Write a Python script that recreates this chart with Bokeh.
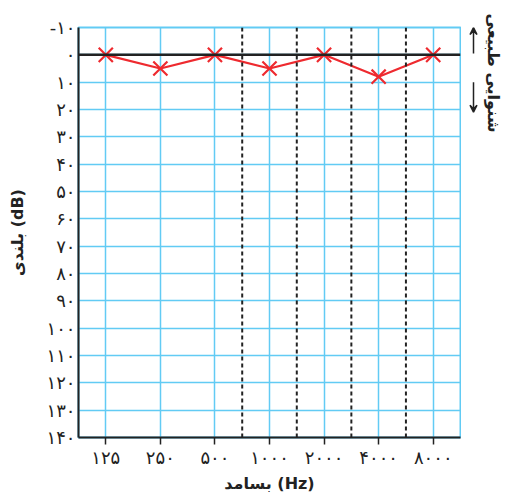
import math
from bokeh.plotting import figure
from bokeh.layouts import row
from bokeh.models import Range1d, FixedTicker, Span, Arrow, VeeHead, ColumnDataSource, Title
from bokeh.embed import file_html
from bokeh.resources import INLINE

freq_labels = ["۱۲۵", "۲۵۰", "۵۰۰", "۱۰۰۰", "۲۰۰۰", "۴۰۰۰", "۸۰۰۰"]
hearing_db = [0, 5, 0, 5, 0, 8, 0]
y_ticks = [-10, 0, 10, 20, 30, 40, 50, 60, 70, 80, 90, 100, 110, 120, 130, 140]
y_tick_labels = ["-۱۰", "۰", "۱۰", "۲۰", "۳۰", "۴۰", "۵۰", "۶۰", "۷۰", "۸۰", "۹۰",
                 "۱۰۰", "۱۱۰", "۱۲۰", "۱۳۰", "۱۴۰"]
half_octaves = [2.5, 3.5, 4.5, 5.5]  # 750, 1500, 3000, 6000 Hz
side_label = "شنوایی طبیعی"

FONT = "DejaVu Sans"
BLUE = "#62CBF4"
RED = "#EE2A2F"
INK = "#222222"

FRAME_H = 410
TOP = 27
xs = list(range(len(freq_labels)))
src = ColumnDataSource(dict(x=xs, y=hearing_db))
y_range = Range1d(140, -10)

p = figure(frame_width=382, frame_height=FRAME_H, output_backend="svg", toolbar_location=None,
           title=None,
           x_range=Range1d(-0.5, len(freq_labels) - 0.5), y_range=y_range,
           min_border_left=78, min_border_right=1, min_border_top=TOP, min_border_bottom=47)

p.background_fill_color = "white"
p.outline_line_color = BLUE
p.outline_line_width = 2

p.xaxis.ticker = FixedTicker(ticks=xs)
p.xaxis.major_label_overrides = {i: s for i, s in zip(xs, freq_labels)}
p.yaxis.ticker = FixedTicker(ticks=y_ticks)
p.yaxis.major_label_overrides = {t: s for t, s in zip(y_ticks, y_tick_labels)}

for ax in (p.xaxis[0], p.yaxis[0]):
    ax.axis_line_color = INK
    ax.axis_line_width = 2
    ax.major_label_text_font = FONT
    ax.major_label_text_font_size = "18px"
    ax.major_label_text_color = INK
    ax.minor_tick_line_color = None
    ax.axis_label_text_font = FONT
    ax.axis_label_text_font_style = "bold"
    ax.axis_label_text_font_size = "16px"
    ax.axis_label_text_color = INK

p.xaxis.major_tick_out = 7
p.xaxis.major_tick_in = 0
p.xaxis.major_tick_line_color = INK
p.xaxis.major_tick_line_width = 1.5
p.xaxis.major_label_standoff = 2
p.xaxis.axis_label = "بسامد (Hz)"
p.xaxis.axis_label_standoff = 3

p.yaxis.major_tick_out = 0
p.yaxis.major_tick_in = 0
p.yaxis.major_label_standoff = 3
p.yaxis.axis_label = "بلندی (dB)"
p.yaxis.axis_label_standoff = 16

p.xgrid.grid_line_color = BLUE
p.xgrid.grid_line_width = 1.5
p.ygrid.grid_line_color = BLUE
p.ygrid.grid_line_width = 1.5

for xv in half_octaves:
    p.add_layout(Span(location=xv, dimension="height", line_color=INK,
                      line_width=2, line_dash="4 3"))

p.add_layout(Span(location=0, dimension="width", line_color=INK, line_width=2.5))

p.line("x", "y", source=src, line_color=RED, line_width=2.2)
p.scatter("x", "y", source=src, marker="x", size=20, line_color=RED, line_width=2.2)

# side panel: arrows in its frame (same dB scale), note as a right-side title
q = figure(frame_width=22, frame_height=FRAME_H, output_backend="svg",
           toolbar_location=None, title=None, x_range=Range1d(0, 22), y_range=y_range,
           x_axis_location=None, y_axis_location=None,
           min_border_left=0, min_border_right=0, min_border_top=TOP, min_border_bottom=47)
q.outline_line_color = None
q.grid.visible = False
q.add_layout(Arrow(end=VeeHead(size=7, line_color=INK, line_width=1.5, fill_color=INK),
                   x_start=12, y_start=-0.5, x_end=12, y_end=-10,
                   line_color=INK, line_width=1.5))
q.add_layout(Arrow(end=VeeHead(size=7, line_color=INK, line_width=1.5, fill_color=INK),
                   x_start=12, y_start=10, x_end=12, y_end=21,
                   line_color=INK, line_width=1.5))
q.add_layout(Title(text=side_label, align="left", offset=-14, standoff=0,
                   text_font=FONT, text_font_style="bold", text_font_size="16px",
                   text_color=INK), "right")

layout = row(p, q, spacing=0)
open("out.html", "w").write(file_html(layout, INLINE))
